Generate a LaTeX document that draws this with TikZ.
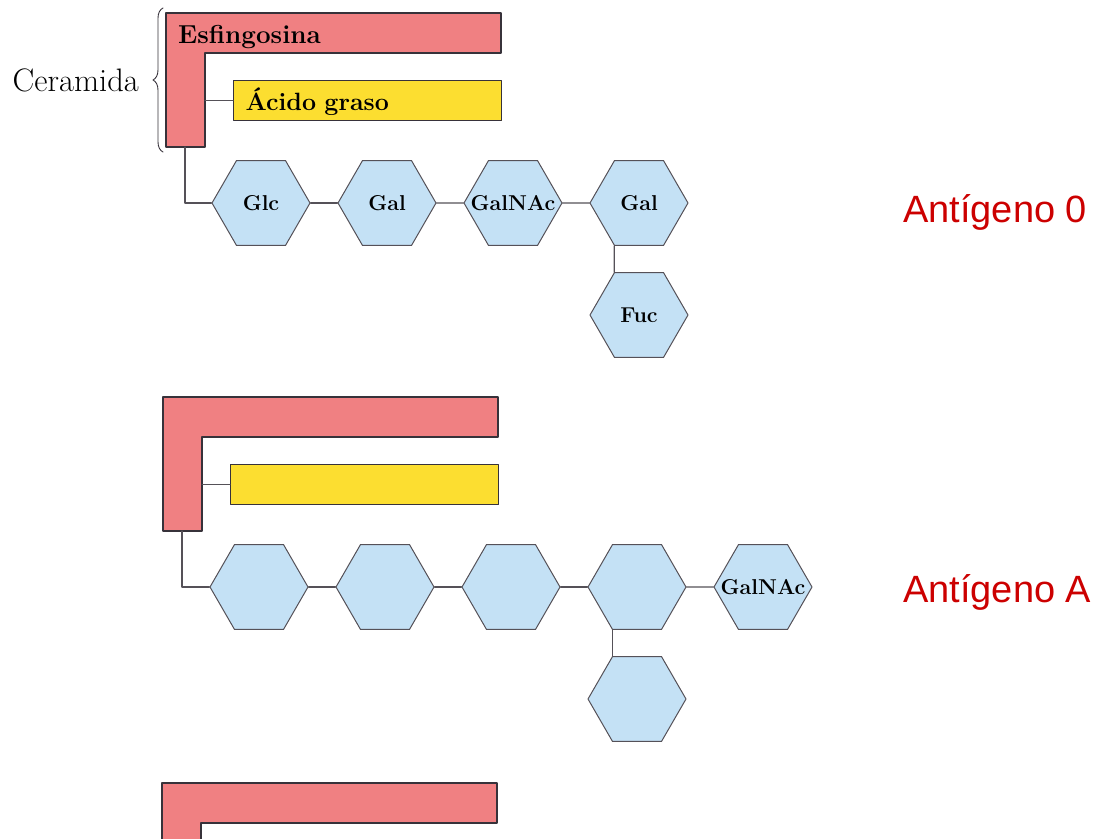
\documentclass[tikz,border=0pt]{standalone}
\usepackage{fontspec}
\newfontfamily\arialfont{Liberation Sans}
\usetikzlibrary{shapes.geometric,decorations.pathreplacing}
\definecolor{esfcolor}{RGB}{240,128,130}
\definecolor{acidcolor}{RGB}{252,222,48}
\definecolor{azucolor}{RGB}{196,225,245}
\definecolor{bordecolor}{RGB}{55,50,58}
\definecolor{antcolor}{RGB}{204,0,0}
\newcommand\azu[1]{\makebox[0pt]{#1}}
\begin{document}
\begin{tikzpicture}[x=1pt,y=-1pt, line join=round, line cap=round]
	\tikzset{esf/.style={draw=bordecolor, line width=1.3pt, fill=esfcolor},
		acid/.style={draw=bordecolor, line width=1.3pt, fill=acidcolor, anchor=north west,
			minimum width=268pt, minimum height=40pt, inner xsep=12pt, inner ysep=0pt,
			text width=244pt, align=left, text height=24pt, text depth=4pt,
			font=\fontsize{25}{28}\selectfont\bfseries},
		hexa/.style={regular polygon, regular polygon sides=6, minimum size=98pt, inner sep=0pt,
			draw=bordecolor!85, line width=1pt, fill=azucolor, font=\fontsize{21.5}{24}\selectfont\bfseries},
		enlace/.style={draw=bordecolor!85, line width=1.3pt},
		antlabel/.style={anchor=base west, inner sep=0pt, text=antcolor, font=\arialfont\fontsize{38}{42}\selectfont}}
	\useasboundingbox (0,0) rectangle (1095,838);
	\clip (0,0) rectangle (1095,838);
	% ceramida: esfingosina en L
	\foreach \n/\dx/\dy in {1/0/0, 2/-3/384, 3/-4/770}
	{
		\begin{scope}[shift={(\dx,\dy)}]
			\draw[esf] (166,13) -- (501,13) -- (501,53) -- (205,53) -- (205,147) -- (166,147) -- cycle;
			\coordinate (c\n) at (205,100);
			\coordinate (d\n) at (185,147);
		\end{scope}
	}
	\node[anchor=base west, inner sep=0pt, font=\fontsize{26}{29}\selectfont\bfseries] (esf1) at (178,43) {Esfingosina};
	% acido graso
	\node[acid] (ac1) at (233,80) {Ácido graso};
	\node[acid] (ac2) at (230,464) {};
	\draw[enlace] (ac1.west) -- (ac1.west -| c1);
	\draw[enlace] (ac2.west) -- (ac2.west -| c2);
	% llave
	\draw[decorate, decoration={brace, amplitude=10pt}, line width=0.9pt, bordecolor] (163,152) -- (163,8);
	\node[anchor=base east, inner sep=0pt, font=\fontsize{32.5}{35}\selectfont] (cer) at (139,91) {Ceramida};
	% antigeno 0
	\foreach \i/\t in {1/Glc,2/Gal,3/GalNAc,4/Gal}
	\node[hexa] (h1\i) at (135+126*\i,203) {\azu{\t}};
	\node[hexa] (fuc1) at (639,315) {\azu{Fuc}};
	\draw[enlace] (d1) |- (h11.west);
	\foreach \i/\j in {1/2,2/3,3/4}
	\draw[enlace] (h1\i.east) -- (h1\j.west);
	\draw[enlace] (h14.240) -- (fuc1.120);
	% antigeno A
	\foreach \i/\t in {1/,2/,3/,4/,5/GalNAc}
	\node[hexa] (h2\i) at (133+126*\i,587) {\azu{\t}};
	\node[hexa] (fuc2) at (637,699) {};
	\draw[enlace] (d2) |- (h21.west);
	\foreach \i/\j in {1/2,2/3,3/4,4/5}
	\draw[enlace] (h2\i.east) -- (h2\j.west);
	\draw[enlace] (h24.240) -- (fuc2.120);
	\node[antlabel] (ant0) at (903,222) {Antígeno 0};
	\node[antlabel] (antA) at (903,602) {Antígeno A};
\end{tikzpicture}
\end{document}
